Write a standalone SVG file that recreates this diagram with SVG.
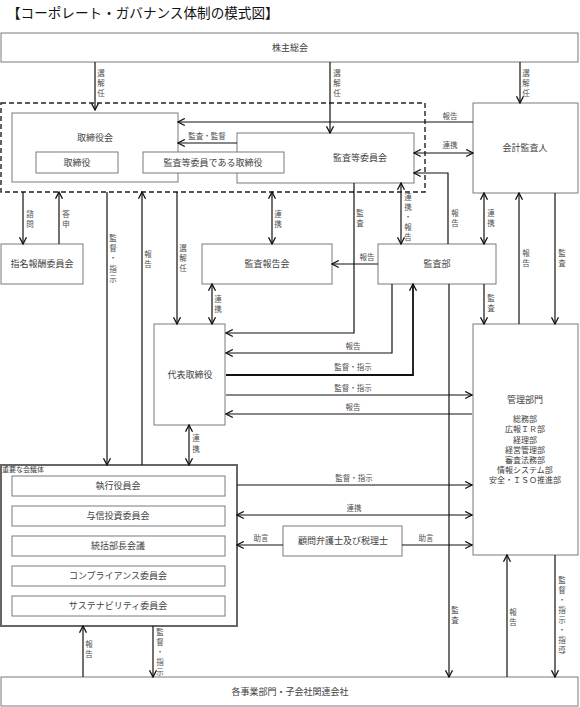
<svg xmlns="http://www.w3.org/2000/svg" width="580" height="707" viewBox="0 0 580 707">
<defs>
<style>
.box{fill:#fff;stroke:#7a7a7a;stroke-width:1}
.ln{fill:none;stroke:#111;stroke-width:1.2}
.thick{stroke-width:1.8}
.a{marker-end:url(#ah)}
.d{marker-start:url(#ah);marker-end:url(#ah)}
text{font-family:"Noto Sans CJK JP","Noto Sans",sans-serif;fill:#404040}
.t{font-size:9px;text-anchor:middle}
.s{font-size:8px;text-anchor:middle}
.lb{font-size:7.5px;text-anchor:middle;fill:#505050}
</style>
<marker id="ah" markerUnits="userSpaceOnUse" viewBox="0 0 9 9" markerWidth="9" markerHeight="9" refX="8.3" refY="4.5" orient="auto-start-reverse">
<path d="M1.5,1 L8.3,4.5 L1.5,8" fill="none" stroke="#111" stroke-width="1.3"/>
</marker>
</defs>
<rect width="580" height="707" fill="#fff"/>
<text x="7" y="18" style="font-size:13.6px;fill:#111">【コーポレート・ガバナンス体制の模式図】</text>

<g id="kabunushi"><rect class="box" x="1" y="33" width="577" height="29"/><text class="t" x="290" y="51">株主総会</text></g>
<g id="board-frame"><rect x="1" y="103" width="424" height="89" fill="none" stroke="#222" stroke-width="1.4" stroke-dasharray="5,3"/></g>
<g id="torishimariyakukai"><rect class="box" x="12" y="113" width="166" height="69"/><text class="t" x="95" y="141">取締役会</text></g>
<g id="torishimariyaku"><rect class="box" x="36" y="152" width="82" height="21"/><text class="t" x="77" y="166">取締役</text></g>
<g id="kansatou-iinkai"><rect class="box" x="237" y="133" width="177" height="50"/><text class="t" x="360" y="161">監査等委員会</text></g>
<g id="kansatou-torishimariyaku"><rect class="box" x="143" y="152" width="141" height="21"/><text class="t" x="213" y="166">監査等委員である取締役</text></g>
<g id="kaikei"><rect class="box" x="473" y="103" width="105" height="90"/><text class="t" x="525" y="151">会計監査人</text></g>
<g id="shimei"><rect class="box" x="1" y="244" width="82" height="40"/><text class="t" x="42" y="267">指名報酬委員会</text></g>
<g id="kansa-houkokukai"><rect class="box" x="202" y="244" width="130" height="40"/><text class="t" x="267" y="267">監査報告会</text></g>
<g id="kansabu"><rect class="box" x="378" y="244" width="118" height="40"/><text class="t" x="437" y="267">監査部</text></g>
<g id="daihyo"><rect class="box" x="154" y="324" width="71" height="101"/><text class="t" x="190" y="378">代表取締役</text></g>
<g id="kanri"><rect class="box" x="473" y="324" width="105" height="231"/><text class="t" x="525" y="403">管理部門</text>
<text class="s" x="525" y="422">総務部</text><text class="s" x="525" y="432">広報ＩＲ部</text><text class="s" x="525" y="443">経理部</text><text class="s" x="525" y="453">経営管理部</text><text class="s" x="525" y="463">審査法務部</text><text class="s" x="525" y="473">情報システム部</text><text class="s" x="525" y="483">安全・ＩＳＯ推進部</text></g>
<g id="juuyou"><rect x="1" y="465" width="236" height="161" fill="#fff" stroke="#666" stroke-width="2"/><text x="2" y="472" style="font-size:7px">重要な会議体</text></g>
<g id="shikkou"><rect class="box" x="12" y="476" width="213" height="20"/><text class="t" x="118" y="489">執行役員会</text></g>
<g id="yoshin"><rect class="box" x="12" y="506" width="213" height="20"/><text class="t" x="118" y="519">与信投資委員会</text></g>
<g id="toukatsu"><rect class="box" x="12" y="536" width="213" height="20"/><text class="t" x="118" y="549">統括部長会議</text></g>
<g id="compliance"><rect class="box" x="12" y="566" width="213" height="20"/><text class="t" x="118" y="579">コンプライアンス委員会</text></g>
<g id="sustainability"><rect class="box" x="12" y="596" width="213" height="20"/><text class="t" x="118" y="609">サステナビリティ委員会</text></g>
<g id="komon"><rect class="box" x="283" y="526" width="119" height="30"/><text class="t" x="343" y="544">顧問弁護士及び税理士</text></g>
<g id="kakujigyo"><rect class="box" x="1" y="677" width="577" height="29"/><text class="t" x="290" y="695">各事業部門・子会社関連会社</text></g>

<g id="connectors">
<path class="ln a" d="M95,62 V110"/>
<path class="ln a" d="M330,62 V133"/>
<path class="ln a" d="M520,62 V103"/>
<path class="ln a" d="M473,122 H178"/>
<path class="ln a" d="M237,143 H178"/>
<path class="ln d" d="M414,153 H473"/>
<path class="ln a" d="M448,244 V173 H414"/>
<path class="ln d" d="M401,183 V244"/>
<path class="ln a" d="M354,183 V333 H226"/>
<path class="ln a" d="M378,264 H332"/>
<path class="ln d" d="M272,192 V244"/>
<path class="ln d" d="M212,284 V324"/>
<path class="ln a" d="M23,192 V244"/>
<path class="ln a" d="M59,244 V192"/>
<path class="ln a" d="M107,192 V465"/>
<path class="ln a" d="M142,465 V192"/>
<path class="ln a" d="M177,192 V324"/>
<path class="ln d" d="M484,193 V244"/>
<path class="ln a" d="M484,284 V324"/>
<path class="ln a" d="M519,324 V193"/>
<path class="ln a" d="M555,193 V324"/>
<path class="ln a" d="M392,284 V353 H226"/>
<path class="ln thick a" d="M226,375 H413 V284"/>
<path class="ln a" d="M226,395 H472"/>
<path class="ln a" d="M472,414 H226"/>
<path class="ln a" d="M449,284 V677"/>
<path class="ln d" d="M189,425 V465"/>
<path class="ln a" d="M237,485 H472"/>
<path class="ln d" d="M237,515 H472"/>
<path class="ln a" d="M283,545 H237"/>
<path class="ln a" d="M402,545 H472"/>
<path class="ln a" d="M507,677 V555"/>
<path class="ln a" d="M555,555 V677"/>
<path class="ln a" d="M83,677 V626"/>
<path class="ln a" d="M153,626 V677"/>

<text class="lb"><tspan x="101" y="75.5">選</tspan><tspan x="101" y="85.5">解</tspan><tspan x="101" y="95.5">任</tspan></text>
<text class="lb"><tspan x="337" y="75.5">選</tspan><tspan x="337" y="85.5">解</tspan><tspan x="337" y="95.5">任</tspan></text>
<text class="lb"><tspan x="526" y="75.5">選</tspan><tspan x="526" y="85.5">解</tspan><tspan x="526" y="95.5">任</tspan></text>
<text class="lb" x="450" y="118.5">報告</text>
<text class="lb" x="207" y="138.5">監査・監督</text>
<text class="lb" x="450" y="148">連携</text>
<text class="lb"><tspan x="455" y="216">報</tspan><tspan x="455" y="226">告</tspan></text>
<text class="lb"><tspan x="408" y="199.5">連</tspan><tspan x="408" y="209.5">携</tspan><tspan x="408" y="219.5">・</tspan><tspan x="408" y="229.5">報</tspan><tspan x="408" y="239.5">告</tspan></text>
<text class="lb"><tspan x="360" y="216">監</tspan><tspan x="360" y="226">査</tspan></text>
<text class="lb" x="367" y="259.5">報告</text>
<text class="lb"><tspan x="278" y="216.5">連</tspan><tspan x="278" y="226.5">携</tspan></text>
<text class="lb"><tspan x="218" y="301.5">連</tspan><tspan x="218" y="311.5">携</tspan></text>
<text class="lb"><tspan x="30" y="216.5">諮</tspan><tspan x="30" y="226.5">問</tspan></text>
<text class="lb"><tspan x="66" y="216.5">答</tspan><tspan x="66" y="226.5">申</tspan></text>
<text class="lb"><tspan x="113" y="240.5">監</tspan><tspan x="113" y="251">督</tspan><tspan x="113" y="261">・</tspan><tspan x="113" y="271.5">指</tspan><tspan x="113" y="281.5">示</tspan></text>
<text class="lb"><tspan x="148" y="256.5">報</tspan><tspan x="148" y="266.5">告</tspan></text>
<text class="lb"><tspan x="183" y="250.5">選</tspan><tspan x="183" y="260.5">解</tspan><tspan x="183" y="270.5">任</tspan></text>
<text class="lb"><tspan x="491" y="215.5">連</tspan><tspan x="491" y="225.5">携</tspan></text>
<text class="lb"><tspan x="491" y="300.5">監</tspan><tspan x="491" y="310.5">査</tspan></text>
<text class="lb"><tspan x="526" y="255.5">報</tspan><tspan x="526" y="266">告</tspan></text>
<text class="lb"><tspan x="562" y="255.5">監</tspan><tspan x="562" y="265.5">査</tspan></text>
<text class="lb" x="353" y="348.5">報告</text>
<text class="lb" x="353" y="369.5">監督・指示</text>
<text class="lb" x="353" y="390.5">監督・指示</text>
<text class="lb" x="353" y="409.5">報告</text>
<text class="lb"><tspan x="455" y="613">監</tspan><tspan x="455" y="623">査</tspan></text>
<text class="lb"><tspan x="196" y="440.5">連</tspan><tspan x="196" y="451.5">携</tspan></text>
<text class="lb" x="354" y="480.5">監督・指示</text>
<text class="lb" x="354" y="510.5">連携</text>
<text class="lb" x="261" y="540.5">助言</text>
<text class="lb" x="426" y="540.5">助言</text>
<text class="lb"><tspan x="513" y="614.5">報</tspan><tspan x="513" y="624.5">告</tspan></text>
<text class="lb"><tspan x="562" y="582.5">監</tspan><tspan x="562" y="592.5">督</tspan><tspan x="562" y="602.5">・</tspan><tspan x="562" y="612.5">指</tspan><tspan x="562" y="622.5">示</tspan><tspan x="562" y="632.5">・</tspan><tspan x="562" y="642.5">指</tspan><tspan x="562" y="652.5">導</tspan></text>
<text class="lb"><tspan x="89" y="646.5">報</tspan><tspan x="89" y="656.5">告</tspan></text>
<text class="lb"><tspan x="160" y="634.5">監</tspan><tspan x="160" y="644.5">督</tspan><tspan x="160" y="654.5">・</tspan><tspan x="160" y="664.5">指</tspan><tspan x="160" y="674.5">示</tspan></text>
</g>
</svg>
